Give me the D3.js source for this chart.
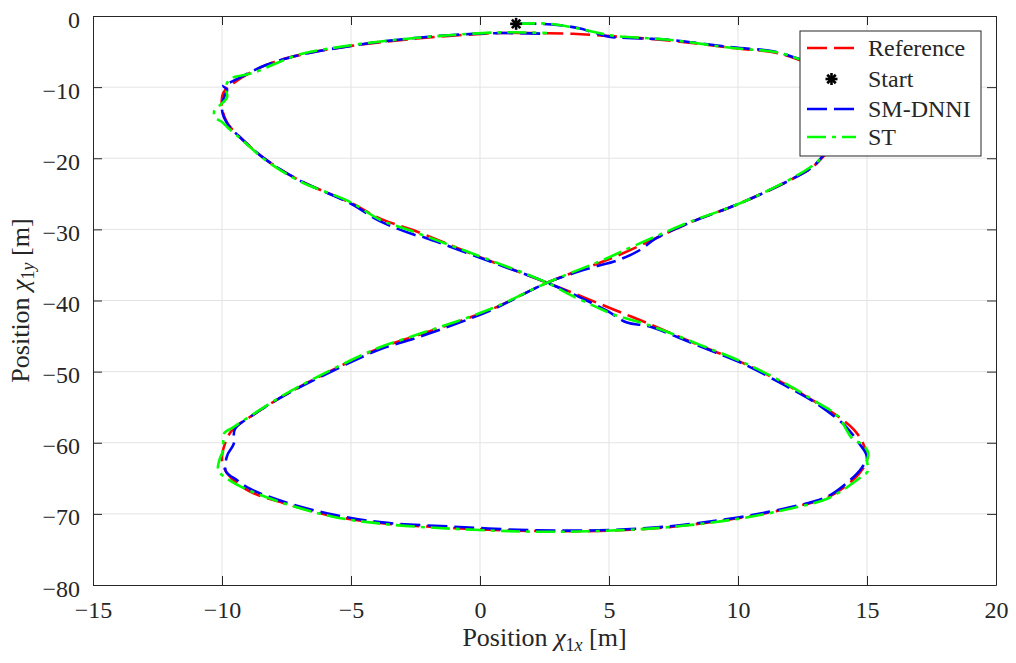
<!DOCTYPE html>
<html>
<head>
<meta charset="utf-8">
<script src="https://cdn.jsdelivr.net/npm/d3@7"></script>
<style>
  body { margin: 0; background: #fff; }
  svg text { font-family: "Liberation Serif", "DejaVu Serif", serif; fill: #262626; }
</style>
</head>
<body>
<script>
// tick values
let xTicks = [-15, -10, -5, 0, 5, 10, 15, 20];
let yTicks = [-80, -70, -60, -50, -40, -30, -20, -10, 0];

// reference trajectory
let refX = [1.4, 3.6, 4.9, 7.2, 9.8, 11.5, 12.4, 13.5, 14.4, 14.9, 14.9, 14.4, 13.45, 12.9, 12.0, 10.1, 8.1, 6.9, 5.2, 2.6,
  0.4, -2.6, -3.9, -6.5, -7.75, -8.8, -9.6, -9.9, -10.0, -9.8, -9.0, -7.6, -5.7, -3.8, -1.0, 2.0, 4.6, 7.2, 10.0, 12.1,
  13.45, 14.2, 14.7, 15.0, 14.85, 14.5, 13.95, 13.05, 11.9, 10.2, 8.5, 6.5, 5.2, 2.6, 0.0, -2.6, -3.8, -5.0, -7.0, -8.3,
  -9.2, -9.8, -10.0, -9.95, -9.5, -8.3, -7.0, -5.0, -3.1, -1.2, 0.8, 1.4];
let refY = [-2.4, -2.5, -2.8, -3.4, -4.5, -5.2, -6.2, -7.8, -9.8, -12.2, -14.8, -17.2, -19.3, -21.2, -23.1, -26.3, -29.1, -31.1, -33.9, -37.5,
  -41.3, -45.1, -46.7, -51.2, -53.7, -56.1, -58.2, -60.3, -62.4, -64.3, -66.7, -68.5, -70.3, -71.3, -72.0, -72.4, -72.4, -71.9, -70.6, -69.1,
  -67.7, -66.0, -64.3, -62.4, -60.1, -58.2, -56.5, -54.4, -51.9, -48.8, -46.3, -43.2, -41.3, -37.5, -33.9, -30.1, -28.6, -26.3, -23.1, -20.2,
  -17.4, -15.0, -12.8, -10.8, -9.3, -6.9, -5.5, -4.2, -3.4, -2.8, -2.4, -2.4];

// SM-DNNI trajectory
let smX = [1.4, 2.3, 3.1, 3.8, 4.4, 5.0, 5.7, 7.2, 9.8, 11.4, 12.4, 13.5, 14.4, 14.9, 14.9, 14.4, 13.4, 12.9, 12.0, 10.1,
  8.1, 6.8, 6.2, 5.3, 4.3, 2.6, 0.4, -2.5, -3.9, -6.5, -7.75, -8.8, -9.5, -9.55, -9.8, -9.85, -9.4, -8.9, -7.6, -5.7,
  -3.8, -1.0, 2.0, 4.6, 7.2, 10.0, 12.1, 13.45, 14.3, 14.8, 15.0, 14.7, 14.2, 13.9, 13.05, 11.8, 10.2, 8.5, 6.5, 5.7,
  4.9, 3.9, 2.6, 0.0, -2.1, -2.6, -3.9, -5.0, -7.0, -8.3, -9.2, -9.8, -10.0, -9.9, -9.8, -9.95, -9.6, -8.3, -7.0, -5.0,
  -3.1, -1.2, 0.8, 2.6];
let smY = [-1.1, -1.1, -1.3, -1.7, -2.3, -2.9, -3.1, -3.3, -4.4, -5.0, -6.1, -7.7, -9.8, -12.3, -14.8, -17.2, -19.3, -21.2, -23.1, -26.3,
  -29.1, -31.3, -32.9, -34.4, -35.4, -37.5, -41.4, -45.3, -46.9, -51.3, -53.7, -56.1, -58.1, -60.2, -61.8, -64.0, -65.3, -66.5, -68.3, -70.1,
  -71.2, -71.8, -72.3, -72.3, -71.8, -70.5, -69.0, -67.6, -65.4, -63.5, -62.0, -60.1, -57.8, -56.8, -54.5, -51.9, -48.9, -46.4, -43.6, -43.1,
  -41.4, -39.6, -37.5, -34.0, -31.2, -30.7, -28.8, -26.4, -23.1, -20.2, -17.4, -15.1, -13.2, -11.2, -10.4, -9.8, -9.2, -6.9, -5.5, -4.2,
  -3.3, -2.7, -2.4, -2.5];

// ST trajectory
let stX = [1.4, 2.5, 3.3, 4.0, 4.6, 5.2, 7.2, 9.8, 11.5, 12.4, 13.5, 14.4, 14.9, 14.9, 14.4, 13.45, 12.9, 12.0, 10.1, 8.1,
  6.8, 5.8, 4.9, 2.6, 0.4, -2.6, -3.9, -6.5, -7.75, -8.8, -9.6, -9.9, -9.95, -9.95, -10.1, -10.15, -9.9, -9.2, -7.6, -5.7,
  -3.8, -1.0, 2.0, 4.6, 7.2, 10.0, 12.1, 13.5, 14.7, 15.05, 15.0, 15.05, 14.85, 14.45, 13.85, 13.05, 11.9, 10.2, 8.5, 6.5,
  5.2, 4.5, 3.5, 2.6, 0.0, -2.6, -3.9, -5.0, -7.0, -8.3, -9.2, -9.8, -10.0, -10.25, -10.3, -10.0, -9.8, -9.85, -9.7, -8.8,
  -7.8, -7.0, -5.0, -3.1, -1.2, 0.8, 2.6];
let stY = [-1.1, -1.05, -1.4, -1.9, -2.4, -2.8, -3.3, -4.5, -5.1, -6.1, -7.8, -9.9, -12.3, -14.9, -17.3, -19.3, -21.0, -23.0, -26.3, -29.0,
  -31.0, -32.6, -34.1, -37.5, -41.2, -45.0, -46.6, -51.1, -53.6, -56.0, -57.9, -58.6, -59.6, -61.0, -62.4, -63.9, -64.8, -66.3, -68.5, -70.4,
  -71.4, -72.1, -72.5, -72.4, -71.9, -70.7, -69.2, -67.8, -65.0, -63.9, -62.6, -61.5, -60.3, -59.5, -56.2, -54.3, -51.8, -48.7, -46.2, -43.4,
  -42.0, -40.9, -39.2, -37.5, -33.8, -30.3, -28.6, -26.2, -23.2, -20.3, -17.5, -15.6, -14.9, -14.3, -13.3, -12.3, -11.4, -10.0, -8.9, -8.0,
  -6.5, -5.4, -4.1, -3.3, -2.7, -2.3, -2.4];

let startPt = [1.4, -1.1];

let W = 1016, H = 663;
let margin = { top: 16, right: 20, bottom: 78, left: 93 };
let serif = '"Liberation Serif", "DejaVu Serif", serif';

let svg = d3.select('body').append('svg').attr('width', W).attr('height', H);

let x = d3.scaleLinear().domain([-15, 20]).range([margin.left, W - margin.right]);
let y = d3.scaleLinear().domain([-80, 0]).range([H - margin.bottom, margin.top]);

// grid
let grid = svg.append('g').attr('stroke', '#e3e3e3').attr('stroke-width', 1);
grid.selectAll('.gx').data(xTicks.slice(1, -1)).enter().append('line')
  .attr('x1', d => x(d)).attr('x2', d => x(d)).attr('y1', y(0)).attr('y2', y(-80));
grid.selectAll('.gy').data(yTicks.slice(1, -1)).enter().append('line')
  .attr('y1', d => y(d)).attr('y2', d => y(d)).attr('x1', x(-15)).attr('x2', x(20));

// trajectories
let line = d3.line().x(d => x(d[0])).y(d => y(d[1])).curve(d3.curveCatmullRom.alpha(0.5));
let series = [
  { name: 'Reference', xs: refX, ys: refY, color: '#ff0000', dash: '20,7' },
  { name: 'SM-DNNI', xs: smX, ys: smY, color: '#0000ff', dash: '20,7' },
  { name: 'ST', xs: stX, ys: stY, color: '#00ff00', dash: '19,6,4,6' }
];
series.forEach(s => {
  svg.append('path')
    .datum(d3.zip(s.xs, s.ys))
    .attr('d', line)
    .attr('fill', 'none')
    .attr('stroke', s.color)
    .attr('stroke-width', 2.6)
    .attr('stroke-dasharray', s.dash);
});

// start marker (asterisk)
function star(g, cx, cy, r) {
  [0, 45, 90, 135].forEach(a => {
    let t = a * Math.PI / 180;
    g.append('line')
      .attr('x1', cx - r * Math.cos(t)).attr('y1', cy - r * Math.sin(t))
      .attr('x2', cx + r * Math.cos(t)).attr('y2', cy + r * Math.sin(t))
      .attr('stroke', '#000').attr('stroke-width', 2.6);
  });
}
star(svg.append('g'), x(startPt[0]), y(startPt[1]), 6);

// axes
let fs = '24px';
let axB = svg.append('g').attr('transform', `translate(0,${y(-80)})`)
  .call(d3.axisBottom(x).tickValues(xTicks).tickSize(-9).tickSizeOuter(0).tickPadding(16));
let axL = svg.append('g').attr('transform', `translate(${x(-15)},0)`)
  .call(d3.axisLeft(y).tickValues(yTicks).tickSize(-9).tickSizeOuter(0).tickPadding(13));
svg.append('g').attr('transform', `translate(0,${y(0)})`)
  .call(d3.axisTop(x).tickValues(xTicks).tickSize(-9).tickSizeOuter(0).tickFormat(''));
svg.append('g').attr('transform', `translate(${x(20)},0)`)
  .call(d3.axisRight(y).tickValues(yTicks).tickSize(-9).tickSizeOuter(0).tickFormat(''));

svg.selectAll('.domain').attr('stroke', '#262626');
svg.selectAll('.tick line').attr('stroke', '#262626');
svg.selectAll('.tick text').attr('font-size', fs).attr('font-family', serif).attr('fill', '#262626');
axL.selectAll('.tick text').attr('dy', '0.46em');

// axis labels
let xl = svg.append('text').attr('x', (x(-15) + x(20)) / 2).attr('y', 646)
  .attr('text-anchor', 'middle').attr('font-size', '26px').attr('font-family', serif);
xl.append('tspan').text('Position ');
xl.append('tspan').attr('font-style', 'italic').text('χ');
xl.append('tspan').attr('font-size', '18px').attr('dy', 5).text('1');
xl.append('tspan').attr('font-size', '18px').attr('font-style', 'italic').text('x');
xl.append('tspan').attr('dy', -5).text(' [m]');

let yl = svg.append('text')
  .attr('transform', `translate(29,${(y(0) + y(-80)) / 2}) rotate(-90)`)
  .attr('text-anchor', 'middle').attr('font-size', '26px').attr('font-family', serif);
yl.append('tspan').text('Position ');
yl.append('tspan').attr('font-style', 'italic').text('χ');
yl.append('tspan').attr('font-size', '18px').attr('dy', 5).text('1');
yl.append('tspan').attr('font-size', '18px').attr('font-style', 'italic').text('y');
yl.append('tspan').attr('dy', -5).text(' [m]');

// legend
let lg = svg.append('g').attr('transform', 'translate(800,31)');
lg.append('rect').attr('width', 181).attr('height', 125)
  .attr('fill', '#fff').attr('stroke', '#262626').attr('stroke-width', 1);
let legendRows = [
  { name: 'Reference', color: '#ff0000', dash: '20,7', y: 17 },
  { name: 'Start', marker: true, y: 48 },
  { name: 'SM-DNNI', color: '#0000ff', dash: '20,7', y: 78 },
  { name: 'ST', color: '#00ff00', dash: '19,6,4,6', y: 106 }
];
legendRows.forEach(r => {
  if (r.marker) {
    star(lg.append('g'), 31.5, r.y, 6);
  } else {
    lg.append('line').attr('x1', 7).attr('x2', 56).attr('y1', r.y).attr('y2', r.y)
      .attr('stroke', r.color).attr('stroke-width', 2.6).attr('stroke-dasharray', r.dash);
  }
  lg.append('text').attr('x', 68).attr('y', r.y + 8).attr('font-size', fs).attr('font-family', serif).text(r.name);
});
</script>
</body>
</html>
